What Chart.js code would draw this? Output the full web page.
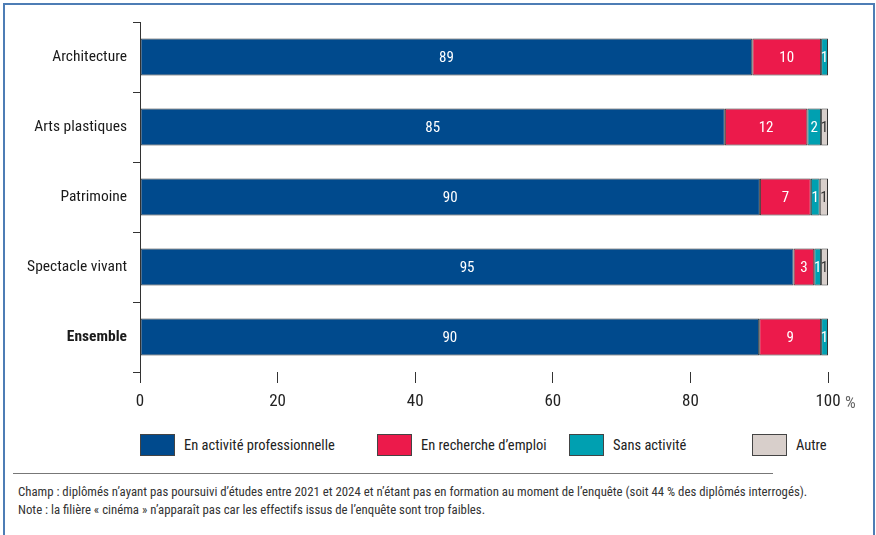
<!DOCTYPE html>
<html lang="fr">
<head>
<meta charset="utf-8">
<script src="https://cdn.jsdelivr.net/npm/chart.js@4.4.1/dist/chart.umd.min.js"></script>
<style>
  body { margin: 0; background: #fff; font-family: "Roboto Condensed", sans-serif; }
  #frame { position: absolute; left: 3px; top: 3px; width: 868px; height: 540px; border: 2px solid #4d7db5; border-bottom: none; }
  #wrap { position: absolute; left: 0; top: 0; width: 876px; height: 420px; }
  #legend { position: absolute; top: 434px; left: 0; width: 876px; height: 24px; }
  .item { position: absolute; top: 0; display: flex; align-items: center; font-size: 14.5px; color: #222; }
  .box { width: 35px; height: 22px; box-sizing: border-box; border: 1px solid #444; margin-right: 9px; }
  #rule { position: absolute; left: 13px; top: 473px; width: 760px; border-top: 1px solid #777; }
  #notes { position: absolute; left: 18px; top: 483px; font-size: 12.8px; line-height: 18px; color: #333; white-space: nowrap; }
</style>
</head>
<body>
<div id="frame"></div>
<div id="wrap"><canvas id="chart"></canvas></div>
<div id="legend"></div>
<div id="rule"></div>
<div id="notes">
  Champ : diplômés n’ayant pas poursuivi d’études entre 2021 et 2024 et n’étant pas en formation au moment de l’enquête (soit 44 % des diplômés interrogés).<br>
  Note : la filière « cinéma » n’apparaît pas car les effectifs issus de l’enquête sont trop faibles.
</div>
<script>
const categories = ['Architecture', 'Arts plastiques', 'Patrimoine', 'Spectacle vivant', 'Ensemble'];
const seriesNames = ['En activité professionnelle', 'En recherche d’emploi', 'Sans activité', 'Autre'];
const enActivite = [89, 85, 90.1, 95, 90];
const enRecherche = [10, 12, 7.4, 3, 9];
const sansActivite = [1, 2, 1.3, 1, 1];
const autre = [0, 1, 1.2, 1, 0];
const xTicks = [0, 20, 40, 60, 80, 100];

const colors = ['#004a8d', '#ec1a4b', '#00a0b1', '#d8cfcb'];
const textColors = ['#fff', '#fff', '#fff', '#333'];
const FONT = '"Roboto Condensed", sans-serif';

// legend built from the series names
const legendLefts = [140, 377, 569, 752];
const legend = document.getElementById('legend');
seriesNames.forEach((name, i) => {
  const el = document.createElement('div');
  el.className = 'item';
  el.style.left = legendLefts[i] + 'px';
  el.innerHTML = `<span class="box" style="background:${colors[i]}"></span>${name}`;
  legend.appendChild(el);
});

// values written in the middle of each segment
const barLabels = {
  id: 'barLabels',
  afterDatasetsDraw(chart) {
    const ctx = chart.ctx;
    ctx.save();
    ctx.font = '15px ' + FONT;
    ctx.textAlign = 'center';
    ctx.textBaseline = 'middle';
    chart.data.datasets.forEach((ds, di) => {
      chart.getDatasetMeta(di).data.forEach((bar, i) => {
        const v = ds.data[i];
        if (!v) return;
        const x = (bar.x + bar.base) / 2;
        ctx.fillStyle = textColors[di];
        ctx.fillText(Math.round(v), x, bar.y + 1);
      });
    });
    ctx.restore();
  }
};

// "%" after the last tick
const percentSign = {
  id: 'percentSign',
  afterDraw(chart) {
    const x = chart.scales.x;
    const ctx = chart.ctx;
    ctx.save();
    ctx.font = '17px ' + FONT;
    ctx.fillStyle = '#666';
    ctx.textBaseline = 'middle';
    ctx.fillText('%', x.getPixelForValue(100) + 17, 404);
    ctx.restore();
  }
};

const data = [enActivite, enRecherche, sansActivite, autre];

new Chart(document.getElementById('chart'), {
  type: 'bar',
  data: {
    labels: categories,
    datasets: seriesNames.map((name, i) => ({
      label: name,
      data: data[i],
      backgroundColor: colors[i],
      borderColor: '#333',
      borderWidth: 1,
      borderSkipped: false,
      barPercentage: 0.53,
      categoryPercentage: 1
    }))
  },
  options: {
    indexAxis: 'y',
    responsive: true,
    maintainAspectRatio: false,
    animation: false,
    layout: { padding: { top: 22, right: 48, left: 0, bottom: 0 } },
    plugins: { legend: { display: false }, tooltip: { enabled: false } },
    scales: {
      x: {
        stacked: true,
        min: 0,
        max: 100,
        afterBuildTicks: s => { s.ticks = xTicks.map(v => ({ value: v })); },
        afterFit: s => { s.height = 48; },
        border: { display: false },
        grid: { drawOnChartArea: false, color: '#333', tickLength: 11 },
        ticks: { color: '#222', font: { family: FONT, size: 17 }, padding: 9, maxRotation: 0 }
      },
      y: {
        stacked: true,
        afterFit: s => { s.width = 140; },
        border: { display: true, color: '#333' },
        grid: { drawOnChartArea: false, color: '#333', tickLength: 7, offset: true },
        ticks: {
          color: '#1a1a1a',
          padding: 6,
          font: c => ({ family: FONT, size: 15.5, weight: c.index === 4 ? 'bold' : 'normal' })
        }
      }
    }
  },
  plugins: [barLabels, percentSign]
});
</script>
</body>
</html>
